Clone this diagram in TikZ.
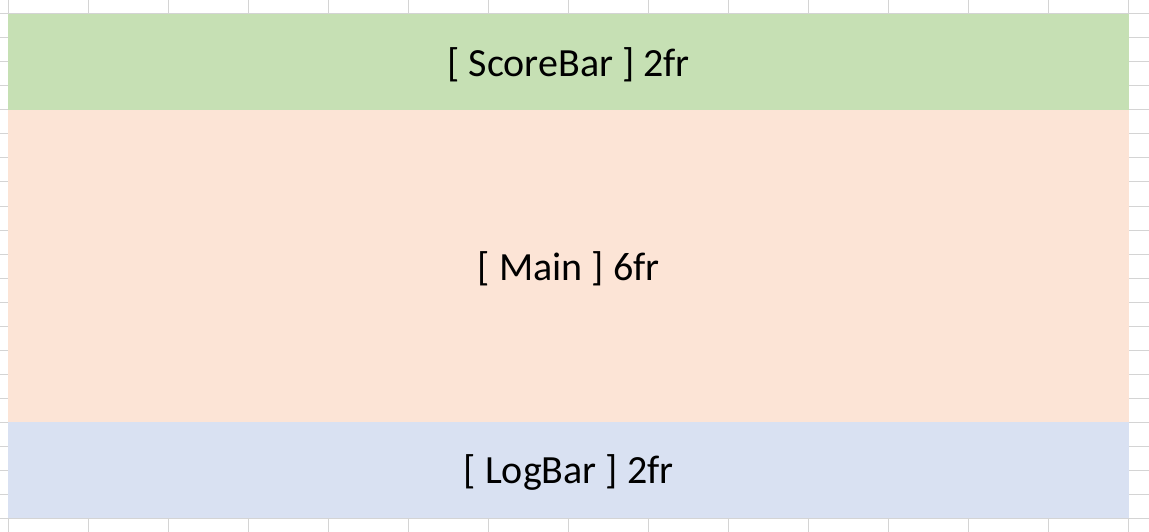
\documentclass[tikz,border=0pt]{standalone}
\usepackage{fontspec}
\setmainfont{Carlito}
\definecolor{gridline}{HTML}{D4D4D4}
\definecolor{scorefill}{HTML}{C6E0B4}
\definecolor{mainfill}{HTML}{FCE4D6}
\definecolor{logfill}{HTML}{D9E1F2}
\begin{document}
\begin{tikzpicture}[x=1pt,y=-1pt,
  band/.style={draw=none,inner sep=0pt,minimum width=1121pt,anchor=north west},
  caption/.style={inner sep=0pt,yshift=-2.5pt,
    font=\fontsize{40}{46}\selectfont,text=black},
  cell/.style={draw=gridline,line width=1pt}]
  \useasboundingbox (0,0) rectangle (1149,532);
  \fill[white] (0,0) rectangle (1149,532);
  % sheet grid: 80pt columns, 24pt rows
  \foreach \k in {0,...,14} {\draw[cell] ({8+80*\k},0) -- ({8+80*\k},532);}
  \foreach \k in {0,...,21} {\draw[cell] (0,{14+24*\k}) -- (1149,{14+24*\k});}
  % layout rows
  \node[band,fill=scorefill,minimum height=96pt] (score) at (8,14) {};
  \node[band,fill=mainfill,minimum height=312pt] (main) at (8,110) {};
  \node[band,fill=logfill,minimum height=96pt] (log) at (8,422) {};
  \node[caption] (scoretext) at (score.center) {[ ScoreBar ] 2fr};
  \node[caption] (maintext) at (main.center) {[ Main ] 6fr};
  \node[caption] (logtext) at (log.center) {[ LogBar ] 2fr};
\end{tikzpicture}
\end{document}
